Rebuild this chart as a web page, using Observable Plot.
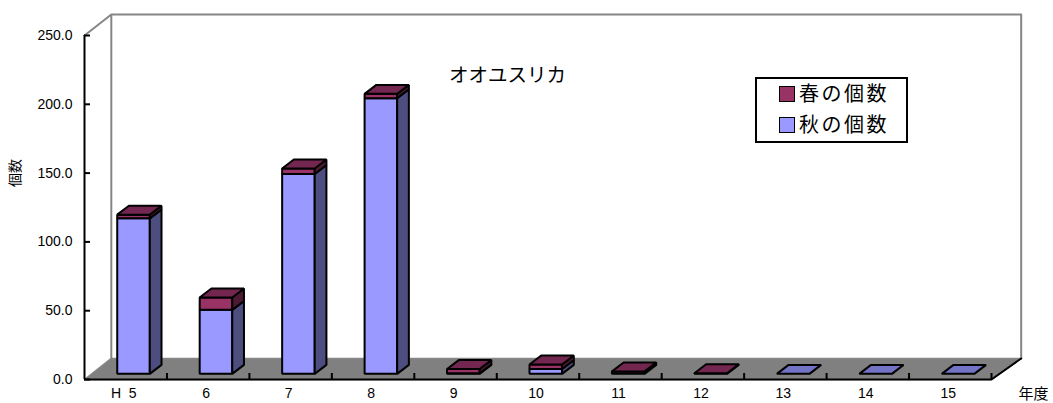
<!DOCTYPE html>
<html><head><meta charset="utf-8">
<script src="https://cdn.jsdelivr.net/npm/d3@7"></script>
<script src="https://cdn.jsdelivr.net/npm/@observablehq/plot@0.6"></script>
<style>
html,body{margin:0;padding:0;background:#fff}
#wrap{position:relative;width:1053px;height:403px;overflow:hidden}
#legend{position:absolute;left:755px;top:77px;width:149px;height:62px;border:2px solid #000;background:#fff;font:20px "Noto Sans CJK JP";letter-spacing:2.5px;color:#000}
#legend div{position:absolute;left:22px;height:30px;line-height:30px;white-space:nowrap}
#legend i{position:absolute;left:0;top:7px;width:14px;height:14px;border:1.5px solid #000}
#legend span{position:absolute;left:20px;top:-1px}
</style></head><body><div id="wrap"><div id="chart"></div>
<div id="legend"><div style="top:0px"><i style="background:#993366"></i><span>春の個数</span></div><div style="top:31px"><i style="background:#9999ff"></i><span>秋の個数</span></div></div></div>
<script>
const categories = ["H\u00a0\u00a05","6","7","8","9","10","11","12","13","14","15"];
const autumn = [113, 46.5, 145.3, 200.3, 0.5, 3.5, 0, 0, 0, 0, 0];
const spring = [2.7, 9, 4, 3.2, 3, 3.3, 1.8, 0.5, 0, 0, 0];
const yTicks = [0, 50, 100, 150, 200, 250];
const title = "オオユスリカ";

// depth of the pseudo-3D box, expressed in scale units
const wallDXL = 0.325, wallDXR = 0.36, wallDY = 15.3;
const barLeft = 0.397, barWidth = 0.395, baseY = 4.1, barDX = 0.142, barDY = 6.5;
const colors = {
  autumn: {front: "#9999ff", side: "#4d4d80", top: "#7373c6"},
  spring: {front: "#993366", side: "#4d1a33", top: "#732650"}
};

const faces = [];
function face(points, fill) {
  const id = faces.length;
  points.forEach(([x, y]) => faces.push({id, x, y, fill}));
}
categories.forEach((c, i) => {
  const a = autumn[i], s = spring[i];
  const x0 = i + barLeft, x1 = x0 + barWidth;
  const seg = (lo, hi, pal) => {
    if (hi <= lo) return;
    face([[x0, lo], [x1, lo], [x1, hi], [x0, hi]], pal.front);
    face([[x1, lo], [x1 + barDX, lo + barDY], [x1 + barDX, hi + barDY], [x1, hi]], pal.side);
  };
  seg(baseY, baseY + a, colors.autumn);
  seg(baseY + a, baseY + a + s, colors.spring);
  const t = baseY + a + s;
  face([[x0, t], [x1, t], [x1 + barDX, t + barDY], [x0 + barDX, t + barDY]], s > 0 ? colors.spring.top : colors.autumn.top);
});
const n = categories.length;
const floor = [[0, 0], [n, 0], [n + wallDXR, wallDY], [wallDXL, wallDY]];
const wall = [[0, 250], [wallDXL, 250 + wallDY], [n + wallDXR, 250 + wallDY], [n + wallDXR, wallDY]];
const px = d => d[0], py = d => d[1];

const chart = Plot.plot({
  width: 1053, height: 403,
  marginLeft: 84, marginRight: 62, marginTop: 35, marginBottom: 24,
  style: {fontFamily: "'Liberation Sans', Arial, sans-serif", fontSize: "14px", color: "#000", background: "#fff"},
  x: {type: "linear", domain: [0, n], axis: null},
  y: {type: "linear", domain: [0, 250], axis: null},
  marks: [
    // back wall
    Plot.line(wall, {x: px, y: py, stroke: "#868686", strokeWidth: 2}),
    Plot.ruleX([wallDXL], {y1: wallDY, y2: 250 + wallDY, stroke: "#868686", strokeWidth: 2}),
    // floor
    Plot.line(floor, {x: px, y: py, curve: "linear-closed", fill: "#808080", stroke: "#868686", strokeWidth: 1.5}),
    Plot.line([[n, 0], [n + wallDXR, wallDY]], {x: px, y: py, stroke: "#000", strokeWidth: 2}),
    // axes
    Plot.ruleY([0], {x1: 0, x2: n, stroke: "#000", strokeWidth: 2}),
    Plot.ruleX([0], {y1: 0, y2: 250, stroke: "#000", strokeWidth: 2}),
    Plot.axisY({anchor: "left", ticks: yTicks, tickSize: -6, tickPadding: 18, tickFormat: d3.format(".1f"), stroke: "#000", strokeWidth: 2, fill: "#000", label: null, fontSize: 14, textStroke: "none"}),
    Plot.axisX({anchor: "bottom", ticks: d3.range(1, n + 1), tickSize: -6, tickPadding: 0, tickFormat: () => "", stroke: "#000", strokeWidth: 2, label: null}),
    Plot.text(categories, {x: (d, i) => i + 0.5, y: 0, dx: -2, dy: 14, fontSize: 14, fill: "#000"}),
    // bars
    Plot.line(faces, {x: "x", y: "y", z: "id", curve: "linear-closed", fill: "fill", stroke: "#000", strokeWidth: 2, strokeLinejoin: "miter"}),
    // labels
    Plot.text([title], {x: 5.13, y: 220.5, fontSize: 19.5, fontFamily: "'Noto Sans CJK JP'", fill: "#000"}),
    Plot.text(["年度"], {x: n, y: 0, dx: 42, dy: 15, fontSize: 15, fontFamily: "'Noto Sans CJK JP'", fill: "#000"}),
    Plot.text(["個数"], {x: 0, y: 150, dx: -69, rotate: -90, fontSize: 14, fontFamily: "'Noto Sans CJK JP'", fill: "#000"})
  ]
});
document.getElementById("chart").appendChild(chart);
</script></body></html>
